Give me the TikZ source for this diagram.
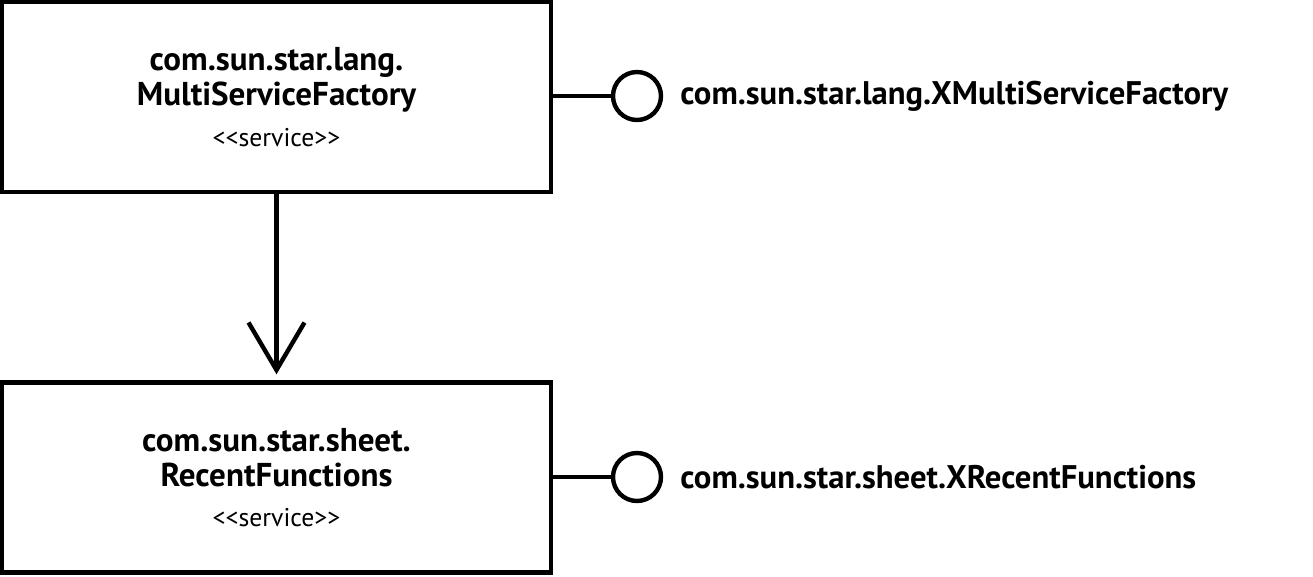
\documentclass[tikz,border=0pt]{standalone}
\usepackage{fontspec}
\setmainfont{PT Sans}
\usetikzlibrary{positioning,arrows.meta}
\tikzset{
  service/.style   = {shape=rectangle, draw, line width=2.5pt,
                      align=center, inner sep=0pt,
                      minimum width=10.98cm, minimum height=3.8cm,
                      font=\bfseries\fontsize{18.8}{20}\selectfont},
  iface/.style     = {circle, draw, line width=2.5pt,
                      minimum size=0.96cm, inner sep=0pt},
  ifacelabel/.style= {anchor=west, inner sep=0pt,
                      font=\bfseries\fontsize{18.6}{20}\selectfont},
  socket/.style    = {line width=2.5pt},
  uses/.style      = {line width=2.5pt, shorten >=0.12cm,
                      -{Straight Barb[length=0.95cm, width=1.12cm]}}
}
\newcommand\stereotype{{\normalfont\fontsize{14.6}{16}\selectfont <\kern0pt<service>\kern0pt>}}

\begin{document}
\begin{tikzpicture}[x=0.02cm, y=-0.02cm]
 \useasboundingbox (0,0) rectangle (1313,576);

 \node[service] (factory) at (276.5,97)
   {com.sun.star.lang.\\MultiServiceFactory\\[3pt]\stereotype};
 \node[service] (recent) at (276.5,477.5)
   {com.sun.star.sheet.\\RecentFunctions\\[3pt]\stereotype};

 \node[iface] (xfactory) at (637,96) {};
 \node[iface] (xrecent)  at (637,477) {};
 \node[ifacelabel] (xfactorylabel) at (680,96) {com.sun.star.lang.XMultiServiceFactory};
 \node[ifacelabel] (xrecentlabel)  at (680,477) {com.sun.star.sheet.XRecentFunctions};

 \draw[socket] (factory.east |- xfactory) -- (xfactory);
 \draw[socket] (recent.east |- xrecent) -- (xrecent);
 \draw[uses] (factory) -- (recent);
\end{tikzpicture}
\end{document}
